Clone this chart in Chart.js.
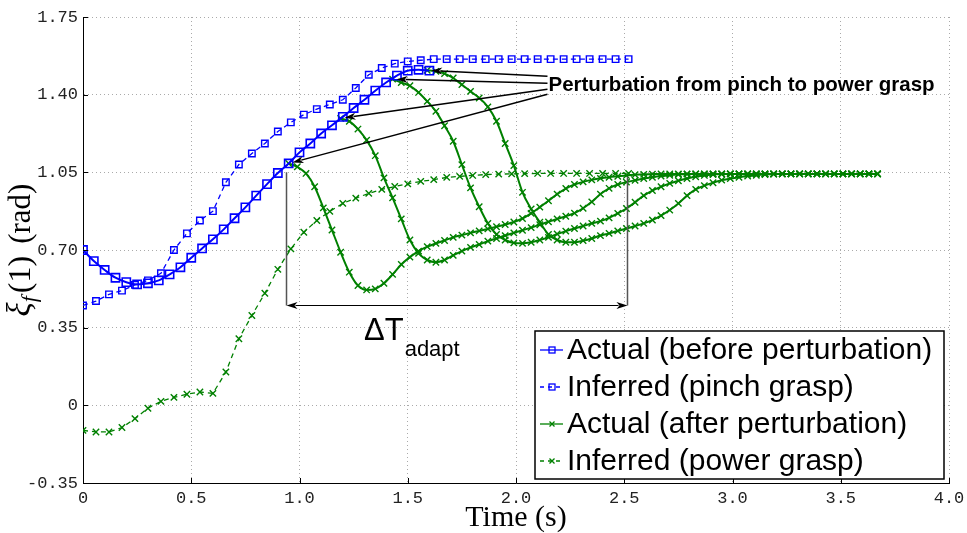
<!DOCTYPE html>
<html>
<head>
<meta charset="utf-8">
<script src="https://cdn.jsdelivr.net/npm/chart.js@4.4.1/dist/chart.umd.min.js"></script>
<style>
  html, body { margin: 0; padding: 0; background: #fff; }
  #wrap { width: 967px; height: 533px; }
</style>
</head>
<body>
<div id="wrap"><canvas id="myChart" width="967" height="533"></canvas></div>
<script>
// joint angle xi_f(1) in rad against time in s

// actual trajectory before the perturbation (sampled every 0.05 s)
const beforeTime = [0, 0.05, 0.10, 0.15, 0.20, 0.25, 0.30, 0.35, 0.40, 0.45,
  0.50, 0.55, 0.60, 0.65, 0.70, 0.75, 0.80, 0.85, 0.90, 0.95,
  1.00, 1.05, 1.10, 1.15, 1.20, 1.25, 1.30, 1.35, 1.40, 1.45,
  1.50, 1.55, 1.60];
const actualBefore = [0.70, 0.65, 0.61, 0.575, 0.555, 0.545, 0.55, 0.563, 0.59, 0.622,
  0.665, 0.707, 0.748, 0.793, 0.843, 0.892, 0.945, 0.997, 1.047, 1.09,
  1.14, 1.18, 1.225, 1.262, 1.30, 1.34, 1.377, 1.418, 1.455, 1.486,
  1.508, 1.512, 1.508];

// inferred trajectories (sampled every 0.06 s)
const inferredTime = [0, 0.06, 0.12, 0.18, 0.24, 0.30, 0.36, 0.42, 0.48, 0.54,
  0.60, 0.66, 0.72, 0.78, 0.84, 0.90, 0.96, 1.02, 1.08, 1.14,
  1.20, 1.26, 1.32, 1.38, 1.44, 1.50, 1.56, 1.62, 1.68, 1.74,
  1.80, 1.86, 1.92, 1.98, 2.04, 2.10, 2.16, 2.22, 2.28, 2.34,
  2.40, 2.46, 2.52];
const inferredPinch = [0.45, 0.47, 0.50, 0.517, 0.543, 0.563, 0.595, 0.70, 0.775, 0.833,
  0.875, 1.005, 1.085, 1.135, 1.18, 1.234, 1.275, 1.31, 1.335, 1.356,
  1.377, 1.43, 1.49, 1.52, 1.54, 1.55, 1.555, 1.56, 1.56, 1.56,
  1.56, 1.56, 1.56, 1.56, 1.56, 1.56, 1.56, 1.56, 1.56, 1.56,
  1.56, 1.56, 1.56];
const inferredPower = [-0.113, -0.12, -0.12, -0.10, -0.06, -0.013, 0.018, 0.036, 0.05, 0.06,
  0.054, 0.15, 0.30, 0.405, 0.505, 0.613, 0.705, 0.78, 0.833, 0.874,
  0.91, 0.934, 0.955, 0.973, 0.986, 0.998, 1.009, 1.017, 1.027, 1.032,
  1.036, 1.04, 1.042, 1.043, 1.044, 1.045, 1.045, 1.045, 1.045, 1.045,
  1.045, 1.045, 1.045];

// actual trajectories after a perturbation at four different instants (every 0.04 s)
const afterTime = [0.95, 0.99, 1.03, 1.07, 1.11, 1.15, 1.19, 1.23, 1.27, 1.31,
  1.35, 1.39, 1.43, 1.47, 1.51, 1.55, 1.59, 1.63, 1.67, 1.71,
  1.75, 1.79, 1.83, 1.87, 1.91, 1.95, 1.99, 2.03, 2.07, 2.11,
  2.15, 2.19, 2.23, 2.27, 2.31, 2.35, 2.39, 2.43, 2.47, 2.51,
  2.55, 2.59, 2.63, 2.67, 2.71, 2.75, 2.79, 2.83, 2.87, 2.91,
  2.95, 2.99, 3.03, 3.07, 3.11, 3.15, 3.19, 3.23, 3.27, 3.31,
  3.35, 3.39, 3.43, 3.47, 3.51, 3.55, 3.59, 3.63, 3.67];
const actualAfter1 = [1.09, 1.075, 1.045, 0.985, 0.89, 0.79, 0.69, 0.60, 0.54, 0.52,
  0.525, 0.55, 0.59, 0.635, 0.668, 0.695, 0.715, 0.73, 0.743, 0.757,
  0.767, 0.777, 0.786, 0.795, 0.805, 0.815, 0.826, 0.842, 0.865, 0.893,
  0.922, 0.952, 0.977, 0.995, 1.007, 1.016, 1.023, 1.028, 1.032, 1.036,
  1.039, 1.041, 1.042, 1.043, 1.043, 1.043, 1.043, 1.043, 1.043, 1.043,
  1.043, 1.043, 1.043, 1.043, 1.043, 1.043, 1.043, 1.043, 1.043, 1.043,
  1.043, 1.043, 1.043, 1.043, 1.043, 1.043, 1.043, 1.043, 1.043];
const actualAfter2 = [null, null, null, null, null, null, 1.293, 1.28, 1.245, 1.195,
  1.125, 1.025, 0.935, 0.84, 0.745, 0.685, 0.655, 0.645, 0.655, 0.676,
  0.695, 0.712, 0.725, 0.74, 0.752, 0.765, 0.777, 0.789, 0.801, 0.814,
  0.827, 0.84, 0.852, 0.866, 0.888, 0.917, 0.952, 0.978, 0.995, 1.006,
  1.014, 1.022, 1.028, 1.033, 1.037, 1.04, 1.042, 1.043, 1.043, 1.043,
  1.043, 1.043, 1.043, 1.043, 1.043, 1.043, 1.043, 1.043, 1.043, 1.043,
  1.043, 1.043, 1.043, 1.043, 1.043, 1.043, 1.043, 1.043, 1.043];
const actualAfter3 = [null, null, null, null, null, null, null, null, null, null,
  null, null, 1.47, 1.455, 1.44, 1.41, 1.37, 1.325, 1.26, 1.19,
  1.085, 0.98, 0.895, 0.82, 0.77, 0.745, 0.732, 0.73, 0.735, 0.745,
  0.757, 0.772, 0.785, 0.797, 0.808, 0.82, 0.83, 0.845, 0.865, 0.887,
  0.915, 0.945, 0.968, 0.985, 1.0, 1.012, 1.022, 1.03, 1.036, 1.04,
  1.042, 1.043, 1.043, 1.043, 1.043, 1.043, 1.043, 1.043, 1.043, 1.043,
  1.043, 1.043, 1.043, 1.043, 1.043, 1.043, 1.043, 1.043, 1.043];
const actualAfter4 = [null, null, null, null, null, null, null, null, null, null,
  null, null, null, null, null, null, 1.51, 1.505, 1.495, 1.475,
  1.445, 1.415, 1.385, 1.345, 1.28, 1.18, 1.08, 0.96, 0.885, 0.825,
  0.77, 0.745, 0.735, 0.735, 0.742, 0.752, 0.765, 0.775, 0.786, 0.797,
  0.808, 0.82, 0.835, 0.855, 0.88, 0.91, 0.945, 0.973, 0.99, 1.003,
  1.015, 1.022, 1.028, 1.033, 1.037, 1.04, 1.042, 1.043, 1.043, 1.043,
  1.043, 1.043, 1.043, 1.043, 1.043, 1.043, 1.043, 1.043, 1.043];

const xTicks = [0, 0.5, 1.0, 1.5, 2.0, 2.5, 3.0, 3.5, 4.0];
const xTickLabels = ['0', '0.5', '1.0', '1.5', '2.0', '2.5', '3.0', '3.5', '4.0'];
const yTicks = [-0.35, 0, 0.35, 0.70, 1.05, 1.40, 1.75];
const yTickLabels = ['-0.35', '0', '0.35', '0.70', '1.05', '1.40', '1.75'];

const legendLabels = ['Actual (before perturbation)', 'Inferred (pinch grasp)',
  'Actual (after perturbation)', 'Inferred (power grasp)'];
const noteText = 'Perturbation from pinch to power grasp';

// adaptation interval marker
const adaptStart = 0.94;
const adaptEnd = 2.515;
const adaptLevel = 0.45;
const adaptTops = [1.05, 1.03];

const BLUE = '#0000ff';
const GREEN = '#008000';

function toPoints(t, v) {
  return t.map((x, i) => ({ x: x, y: v[i] })).filter(p => p.y !== null);
}

function afterSet(values, label) {
  return {
    label: label,
    data: toPoints(afterTime, values),
    borderColor: GREEN,
    borderWidth: 2,
    pointStyle: 'crossRot',
    pointRadius: 4.5,
    pointBorderWidth: 1.4,
    pointBorderColor: GREEN,
    pointBackgroundColor: GREEN,
    cubicInterpolationMode: 'monotone'
  };
}

const datasets = [
  {
    label: legendLabels[0],
    data: toPoints(beforeTime, actualBefore),
    borderColor: BLUE,
    borderWidth: 2,
    pointStyle: 'rect',
    pointRadius: 5.8,
    pointBorderWidth: 1.6,
    pointBorderColor: BLUE,
    pointBackgroundColor: 'rgba(0,0,0,0)',
    cubicInterpolationMode: 'monotone'
  },
  {
    label: legendLabels[1],
    data: toPoints(inferredTime, inferredPinch),
    borderColor: BLUE,
    borderWidth: 1.3,
    borderDash: [5, 4],
    pointStyle: 'rect',
    pointRadius: 4.6,
    pointBorderWidth: 1.4,
    pointBorderColor: BLUE,
    pointBackgroundColor: 'rgba(0,0,0,0)'
  },
  afterSet(actualAfter1, legendLabels[2]),
  afterSet(actualAfter2, ''),
  afterSet(actualAfter3, ''),
  afterSet(actualAfter4, ''),
  {
    label: legendLabels[3],
    data: toPoints(inferredTime, inferredPower),
    borderColor: GREEN,
    borderWidth: 1.3,
    borderDash: [5, 4],
    pointStyle: 'crossRot',
    pointRadius: 4.5,
    pointBorderWidth: 1.4,
    pointBorderColor: GREEN,
    pointBackgroundColor: GREEN
  }
];

function drawArrow(ctx, x1, y1, x2, y2, len, half) {
  const a = Math.atan2(y2 - y1, x2 - x1);
  const bx = x2 - Math.cos(a) * len;
  const by = y2 - Math.sin(a) * len;
  ctx.beginPath();
  ctx.moveTo(x1, y1);
  ctx.lineTo(bx + Math.cos(a) * 2, by + Math.sin(a) * 2);
  ctx.stroke();
  ctx.beginPath();
  ctx.moveTo(x2, y2);
  ctx.lineTo(bx - Math.sin(a) * half, by + Math.cos(a) * half);
  ctx.lineTo(bx + Math.cos(a) * 3, by + Math.sin(a) * 3);
  ctx.lineTo(bx + Math.sin(a) * half, by - Math.cos(a) * half);
  ctx.closePath();
  ctx.fill();
}

function legendMarker(ctx, style, x, y, color) {
  ctx.strokeStyle = color;
  ctx.lineWidth = 1.3;
  ctx.setLineDash([]);
  if (style === 'rect') {
    ctx.strokeRect(x - 3, y - 3, 6, 6);
  } else {
    ctx.beginPath();
    ctx.moveTo(x - 2.5, y - 2.5); ctx.lineTo(x + 2.5, y + 2.5);
    ctx.moveTo(x + 2.5, y - 2.5); ctx.lineTo(x - 2.5, y + 2.5);
    ctx.stroke();
  }
}

const decorations = {
  id: 'decorations',
  afterDraw(chart) {
    const ctx = chart.ctx;
    const area = chart.chartArea;
    const xs = chart.scales.x;
    const ys = chart.scales.y;
    ctx.save();

    // inward tick marks
    ctx.strokeStyle = '#000';
    ctx.lineWidth = 1;
    ctx.beginPath();
    xTicks.forEach(v => {
      const px = Math.round(xs.getPixelForValue(v)) + 0.5;
      ctx.moveTo(px, area.bottom);
      ctx.lineTo(px, area.bottom - 5);
    });
    yTicks.forEach(v => {
      const py = Math.round(ys.getPixelForValue(v)) + 0.5;
      ctx.moveTo(area.left, py);
      ctx.lineTo(area.left + 5, py);
    });
    ctx.stroke();

    // adaptation interval
    ctx.strokeStyle = '#555';
    ctx.lineWidth = 1.5;
    const xa = xs.getPixelForValue(adaptStart);
    const xb = xs.getPixelForValue(adaptEnd);
    const yl = ys.getPixelForValue(adaptLevel);
    ctx.beginPath();
    ctx.moveTo(xa, ys.getPixelForValue(adaptTops[0]));
    ctx.lineTo(xa, yl);
    ctx.moveTo(xb, ys.getPixelForValue(adaptTops[1]));
    ctx.lineTo(xb, yl);
    ctx.stroke();
    ctx.strokeStyle = '#000';
    ctx.fillStyle = '#000';
    ctx.lineWidth = 1.2;
    const xm = (xa + xb) / 2;
    drawArrow(ctx, xm, yl, xa, yl, 11, 3.5);
    drawArrow(ctx, xm, yl, xb, yl, 11, 3.5);

    ctx.font = '31px "Liberation Sans"';
    ctx.textBaseline = 'alphabetic';
    ctx.textAlign = 'left';
    ctx.fillText('\u0394T', 364, 340);
    const wDT = ctx.measureText('\u0394T').width;
    ctx.font = '22px "Liberation Sans"';
    ctx.fillText('adapt', 364 + wDT + 1, 356);

    // perturbation note with arrows to the branch points
    const noteX = xs.getPixelForValue(2.15);
    const noteY = ys.getPixelForValue(1.415);
    ctx.font = 'bold 20.5px "Liberation Sans"';
    ctx.fillText(noteText, noteX, noteY);
    const starts = [2, 3, 4, 5].map(i => chart.data.datasets[i].data[0]);
    const offsets = [3, -2, -8, -15];
    ctx.lineWidth = 1.5;
    starts.forEach((p, i) => {
      const tx = xs.getPixelForValue(p.x);
      const ty = ys.getPixelForValue(p.y);
      const ox = noteX - 1;
      const oy = noteY + offsets[i];
      const a = Math.atan2(ty - oy, tx - ox);
      drawArrow(ctx, ox, oy, tx - Math.cos(a) * 4, ty - Math.sin(a) * 4, 11, 3.5);
    });

    // legend box
    const bx = 535, by = 331, bw = 409, bh = 148;
    ctx.fillStyle = '#fff';
    ctx.fillRect(bx, by, bw, bh);
    ctx.strokeStyle = '#000';
    ctx.lineWidth = 1.5;
    ctx.strokeRect(bx, by, bw, bh);
    const rows = [0, 1, 2, 6];
    rows.forEach((di, r) => {
      const ds = chart.data.datasets[di];
      const ry = by + 19 + r * 37;
      ctx.strokeStyle = ds.borderColor;
      ctx.lineWidth = 1.3;
      ctx.setLineDash(ds.borderDash ? [4, 4] : []);
      ctx.beginPath();
      ctx.moveTo(bx + 5, ry);
      ctx.lineTo(bx + 28, ry);
      ctx.stroke();
      legendMarker(ctx, ds.pointStyle, bx + 17, ry, ds.borderColor);
      ctx.fillStyle = '#000';
      ctx.font = '30px "Liberation Sans"';
      ctx.textBaseline = 'middle';
      ctx.fillText(legendLabels[r], bx + 32, ry + 1);
    });
    ctx.setLineDash([]);

    // axis titles
    ctx.fillStyle = '#000';
    ctx.textBaseline = 'alphabetic';
    ctx.textAlign = 'center';
    ctx.font = '30px "Liberation Serif"';
    ctx.fillText('Time (s)', (area.left + area.right) / 2, 526);

    ctx.save();
    ctx.translate(30, (area.top + area.bottom) / 2);
    ctx.rotate(-Math.PI / 2);
    ctx.textAlign = 'left';
    const parts = [
      { t: '\u03BE', f: 'italic 33px "Liberation Serif"', dy: 0, gap: 0 },
      { t: 'f', f: 'italic 22px "Liberation Serif"', dy: 6, gap: 3 },
      { t: '(1)', f: '32px "Liberation Serif"', dy: 0, gap: 12 },
      { t: '(rad)', f: '31px "Liberation Serif"', dy: 0, gap: 0 }
    ];
    let total = 0;
    parts.forEach(p => { ctx.font = p.f; p.w = ctx.measureText(p.t).width; total += p.w + p.gap; });
    let cx = -total / 2;
    parts.forEach(p => { ctx.font = p.f; ctx.fillText(p.t, cx, p.dy); cx += p.w + p.gap; });
    ctx.restore();

    ctx.restore();
  }
};

const ctx = document.getElementById('myChart');

new Chart(ctx, {
  type: 'scatter',
  data: { datasets: datasets },
  options: {
    responsive: false,
    animation: false,
    devicePixelRatio: 1,
    showLine: true,
    layout: { padding: { top: 17, right: 18, left: 0, bottom: 0 } },
    elements: { line: { tension: 0 } },
    plugins: {
      legend: { display: false },
      tooltip: { enabled: false }
    },
    scales: {
      x: {
        type: 'linear',
        min: 0,
        max: 4,
        afterBuildTicks: scale => { scale.ticks = xTicks.map(v => ({ value: v })); },
        afterFit: scale => {
          scale.height = 50;
          scale.paddingLeft = 0;
          scale.paddingRight = 0;
        },
        ticks: {
          autoSkip: false,
          maxRotation: 0,
          padding: 5,
          color: '#222',
          font: { family: '"Liberation Mono"', size: 17 },
          callback: (v, i) => xTickLabels[i]
        },
        grid: { color: '#aaa', lineWidth: 1, drawTicks: false },
        border: { display: true, color: '#000', width: 1, dash: [1, 3] }
      },
      y: {
        type: 'linear',
        min: -0.35,
        max: 1.75,
        afterBuildTicks: scale => { scale.ticks = yTicks.map(v => ({ value: v })); },
        afterFit: scale => {
          scale.width = 83;
          scale.paddingTop = 0;
          scale.paddingBottom = 0;
        },
        ticks: {
          autoSkip: false,
          padding: 5,
          color: '#222',
          font: { family: '"Liberation Mono"', size: 17 },
          callback: (v, i) => yTickLabels[i]
        },
        grid: { color: '#aaa', lineWidth: 1, drawTicks: false },
        border: { display: true, color: '#000', width: 1, dash: [1, 3] }
      }
    }
  },
  plugins: [decorations]
});
</script>
</body>
</html>
